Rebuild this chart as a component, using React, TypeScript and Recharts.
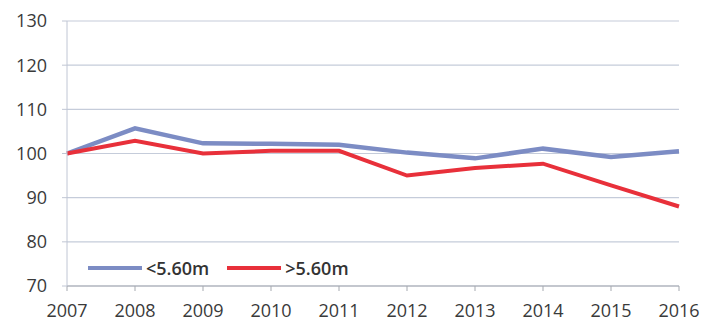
import { LineChart, Line, XAxis, YAxis, CartesianGrid } from "recharts";

const years = ["2007", "2008", "2009", "2010", "2011", "2012", "2013", "2014", "2015", "2016"];
const under560 = [100, 105.7, 102.3, 102.2, 102, 100.2, 98.9, 101.1, 99.2, 100.5];
const over560 = [100, 102.9, 100, 100.6, 100.6, 95, 96.7, 97.7, 92.8, 88];
const yTicks = [70, 80, 90, 100, 110, 120, 130];

const BLUE = "#7c8cc4";
const RED = "#e8303a";

const data = years.map((year, i) => ({
  year,
  under: under560[i],
  over: over560[i],
}));

const font = "'Open Sans', 'Liberation Sans', sans-serif";

const legendItems = [
  { label: "<5.60m", color: BLUE },
  { label: ">5.60m", color: RED },
];

const LegendBox = () => (
  <div
    style={{
      position: "absolute",
      left: 88,
      top: 256,
      display: "flex",
      alignItems: "center",
      fontFamily: font,
      fontSize: 18,
      color: "#333",
    }}
  >
    {legendItems.map((it) => (
      <div key={it.label} style={{ display: "flex", alignItems: "center", marginRight: 18 }}>
        <div style={{ width: 54, height: 4.5, background: it.color, marginRight: 4 }} />
        <span style={{ fontWeight: 600 }}>{it.label}</span>
      </div>
    ))}
  </div>
);

const App = () => {
  return (
    <div style={{ position: "absolute", left: 0, top: 0, width: 704, height: 321, background: "#fff" }}>
      <LineChart width={704} height={321} data={data} margin={{ top: 21, right: 25, bottom: 5, left: 0 }}>
        <CartesianGrid vertical={false} stroke="#c5ccda" strokeWidth={1.2} />
        <XAxis
          dataKey="year"
          interval={0}
          height={30}
          stroke="#a5a9b0"
          tickSize={5}
          tickMargin={13}
          tick={{ fill: "#3a3a3a", fontSize: 18, fontFamily: font }}
        />
        <YAxis
          domain={[70, 130]}
          ticks={yTicks}
          width={67}
          stroke="#c0c6d4"
          tickSize={5}
          tickMargin={15}
          tick={{ fill: "#3a3a3a", fontSize: 18, fontFamily: font }}
        />
        <Line
          type="linear"
          dataKey="under"
          name="<5.60m"
          stroke={BLUE}
          strokeWidth={4.5}
          dot={false}
          isAnimationActive={false}
        />
        <Line
          type="linear"
          dataKey="over"
          name=">5.60m"
          stroke={RED}
          strokeWidth={4}
          dot={false}
          isAnimationActive={false}
        />
      </LineChart>
      <LegendBox />
    </div>
  );
};

export default App;
